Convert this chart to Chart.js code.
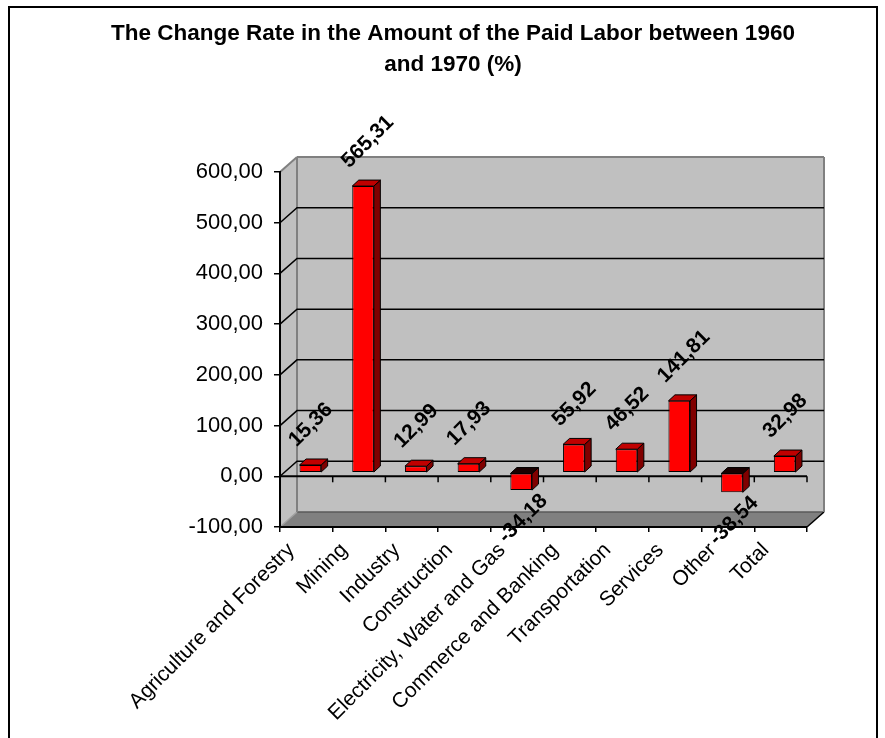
<!DOCTYPE html>
<html>
<head>
<meta charset="utf-8">
<title>Paid Labor Change Rate 1960-1970</title>
<script src="https://cdn.jsdelivr.net/npm/chart.js@4.4.1/dist/chart.umd.min.js"></script>
<style>
  html, body { margin: 0; padding: 0; background: #fff; }
  #wrap { width: 885px; height: 738px; }
</style>
</head>
<body>
<div id="wrap"><canvas id="laborChart" width="885" height="738"></canvas></div>
<script>
const sectors = ['Agriculture and Forestry', 'Mining', 'Industry', 'Construction',
  'Electricity, Water and Gas', 'Commerce and Banking', 'Transportation', 'Services', 'Other', 'Total'];
const changeRate = [15.36, 565.31, 12.99, 17.93, -34.18, 55.92, 46.52, 141.81, -38.54, 32.98];
const titleLines = ['The Change Rate in the Amount of the Paid Labor between 1960', 'and 1970 (%)'];
const axisMin = -100;
const axisMax = 600;
const axisStep = 100;

const FONT = "'Liberation Sans', Arial, sans-serif";
const WALL_DX = 17, WALL_DY = -15;   // depth of the box
const BAR_OX = 4, BAR_OY = -3.5;     // bars stand a bit behind the front plane
const BAR_DX = 6.5, BAR_DY = -6;     // depth of each bar

// numbers use a decimal comma
function fmt(v) {
  return Number(v).toFixed(2).replace('.', ',');
}

function poly(ctx, pts, fill, stroke, lw) {
  ctx.beginPath();
  ctx.moveTo(pts[0][0], pts[0][1]);
  for (let i = 1; i < pts.length; i++) ctx.lineTo(pts[i][0], pts[i][1]);
  ctx.closePath();
  if (fill) { ctx.fillStyle = fill; ctx.fill(); }
  if (stroke) { ctx.strokeStyle = stroke; ctx.lineWidth = lw || 1; ctx.stroke(); }
}

function line(ctx, x1, y1, x2, y2, color, lw) {
  ctx.beginPath();
  ctx.moveTo(x1, y1);
  ctx.lineTo(x2, y2);
  ctx.strokeStyle = color;
  ctx.lineWidth = lw;
  ctx.stroke();
}

// frame, walls, floor and the back-wall gridlines
const wallsPlugin = {
  id: 'walls',
  beforeDraw(chart) {
    const ctx = chart.ctx;
    const a = chart.chartArea;
    const ys = chart.scales.y;
    ctx.save();

    ctx.strokeStyle = '#000';
    ctx.lineWidth = 2;
    ctx.strokeRect(9, 7, 868, 780);

    // side wall + back wall
    poly(ctx, [[a.left, a.top], [a.left + WALL_DX, a.top + WALL_DY], [a.right + WALL_DX, a.top + WALL_DY],
      [a.right + WALL_DX, a.bottom + WALL_DY], [a.right, a.bottom], [a.left, a.bottom]], '#c0c0c0');

    // floor
    poly(ctx, [[a.left, a.bottom], [a.left + WALL_DX, a.bottom + WALL_DY], [a.right + WALL_DX, a.bottom + WALL_DY],
      [a.right, a.bottom]], '#808080');
    line(ctx, a.left + WALL_DX, a.bottom + WALL_DY, a.right + WALL_DX, a.bottom + WALL_DY, '#5a5a5a', 1.5);
    line(ctx, a.left, a.bottom, a.left + WALL_DX, a.bottom + WALL_DY, '#a0a0a0', 1.5);
    line(ctx, a.right, a.bottom, a.right + WALL_DX, a.bottom + WALL_DY, '#000', 1.5);

    // wall edges
    line(ctx, a.left, a.top, a.left + WALL_DX, a.top + WALL_DY, '#808080', 2);
    line(ctx, a.left + WALL_DX, a.top + WALL_DY, a.right + WALL_DX, a.top + WALL_DY, '#808080', 2);
    line(ctx, a.right + WALL_DX, a.top + WALL_DY, a.right + WALL_DX, a.bottom + WALL_DY, '#808080', 2);
    line(ctx, a.left + WALL_DX, a.top + WALL_DY, a.left + WALL_DX, a.bottom + WALL_DY, '#808080', 2);

    // gridlines on the side and back walls
    for (let v = axisMin + axisStep; v < axisMax; v += axisStep) {
      const py = ys.getPixelForValue(v);
      ctx.beginPath();
      ctx.moveTo(a.left, py);
      ctx.lineTo(a.left + WALL_DX, py + WALL_DY);
      ctx.lineTo(a.right + WALL_DX, py + WALL_DY);
      ctx.strokeStyle = '#000';
      ctx.lineWidth = 1.5;
      ctx.stroke();
    }

    // category axis at zero with its tick marks
    const y0 = ys.getPixelForValue(0);
    line(ctx, a.left, y0, a.right, y0, '#000', 2);
    const n = sectors.length;
    for (let i = 0; i <= n; i++) {
      const tx = a.left + i * (a.right - a.left) / n;
      line(ctx, tx, y0, tx, y0 + 6, '#000', 1.5);
    }
    ctx.restore();
  }
};

// top and side faces of the columns; the front face is the normal Chart.js bar, shifted back
const columnsPlugin = {
  id: 'columns',
  beforeDatasetsDraw(chart) {
    const ctx = chart.ctx;
    const meta = chart.getDatasetMeta(0);
    ctx.save();
    meta.data.forEach((bar, i) => {
      const p = bar.getProps(['x', 'y', 'base', 'width'], true);
      const l = p.x - p.width / 2 + BAR_OX;
      const r = p.x + p.width / 2 + BAR_OX;
      const t = Math.min(p.y, p.base) + BAR_OY;
      const b = Math.max(p.y, p.base) + BAR_OY;
      poly(ctx, [[r, t], [r + BAR_DX, t + BAR_DY], [r + BAR_DX, b + BAR_DY], [r, b]], '#800000', '#000', 1);
      poly(ctx, [[l, t], [l + BAR_DX, t + BAR_DY], [r + BAR_DX, t + BAR_DY], [r, t]],
        changeRate[i] < 0 ? '#1a0000' : '#c00000', '#000', 1);
    });
    ctx.restore();
  },
  beforeDatasetDraw(chart) {
    chart.ctx.save();
    chart.ctx.translate(BAR_OX, BAR_OY);
  },
  afterDatasetDraw(chart) {
    chart.ctx.restore();
  },
  afterDatasetsDraw(chart) {
    const ctx = chart.ctx;
    const meta = chart.getDatasetMeta(0);
    ctx.save();
    ctx.font = 'bold 21px ' + FONT;
    ctx.fillStyle = '#000';
    ctx.textBaseline = 'middle';
    meta.data.forEach((bar, i) => {
      const v = changeRate[i];
      ctx.save();
      if (v >= 0) {
        ctx.translate(bar.x - 14, bar.y - 25);
        ctx.textAlign = 'left';
      } else {
        ctx.translate(bar.x + 27, bar.y + 4);
        ctx.textAlign = 'right';
      }
      ctx.rotate(-Math.PI / 4);
      ctx.fillText(fmt(v), 0, 0);
      ctx.restore();
    });
    ctx.restore();
  }
};

const titlePlugin = {
  id: 'chartTitle',
  afterDraw(chart) {
    const ctx = chart.ctx;
    ctx.save();
    ctx.font = 'bold 22.5px ' + FONT;
    ctx.fillStyle = '#000';
    ctx.textAlign = 'center';
    ctx.textBaseline = 'alphabetic';
    ctx.fillText(titleLines[0], 453, 40);
    ctx.fillText(titleLines[1], 453, 71);
    ctx.restore();
  }
};

new Chart(document.getElementById('laborChart'), {
  type: 'bar',
  data: {
    labels: sectors,
    datasets: [{
      data: changeRate,
      backgroundColor: '#ff0000',
      borderColor: '#000',
      borderWidth: 1,
      borderSkipped: false,
      categoryPercentage: 1,
      barPercentage: 0.41,
      clip: false
    }]
  },
  options: {
    responsive: false,
    animation: false,
    layout: { padding: { top: 172, right: 78, left: 0, bottom: 0 } },
    plugins: {
      legend: { display: false },
      tooltip: { enabled: false }
    },
    scales: {
      x: {
        grid: { offset: true, drawOnChartArea: false, tickLength: 5, color: '#000', lineWidth: 1.5 },
        border: { color: '#000', width: 2 },
        ticks: {
          autoSkip: false,
          minRotation: 45,
          maxRotation: 45,
          labelOffset: -15,
          padding: 6,
          color: '#000',
          font: { family: FONT, size: 21 }
        },
        afterFit(scale) { scale.height = 211; }
      },
      y: {
        min: axisMin,
        max: axisMax,
        grid: { drawOnChartArea: false, tickLength: 6, color: '#000', lineWidth: 1.5 },
        border: { color: '#000', width: 2 },
        ticks: {
          stepSize: axisStep,
          padding: 11,
          color: '#000',
          font: { family: FONT, size: 22 },
          callback: v => fmt(v)
        },
        afterFit(scale) { scale.width = 280; }
      }
    }
  },
  plugins: [wallsPlugin, columnsPlugin, titlePlugin]
});
</script>
</body>
</html>
